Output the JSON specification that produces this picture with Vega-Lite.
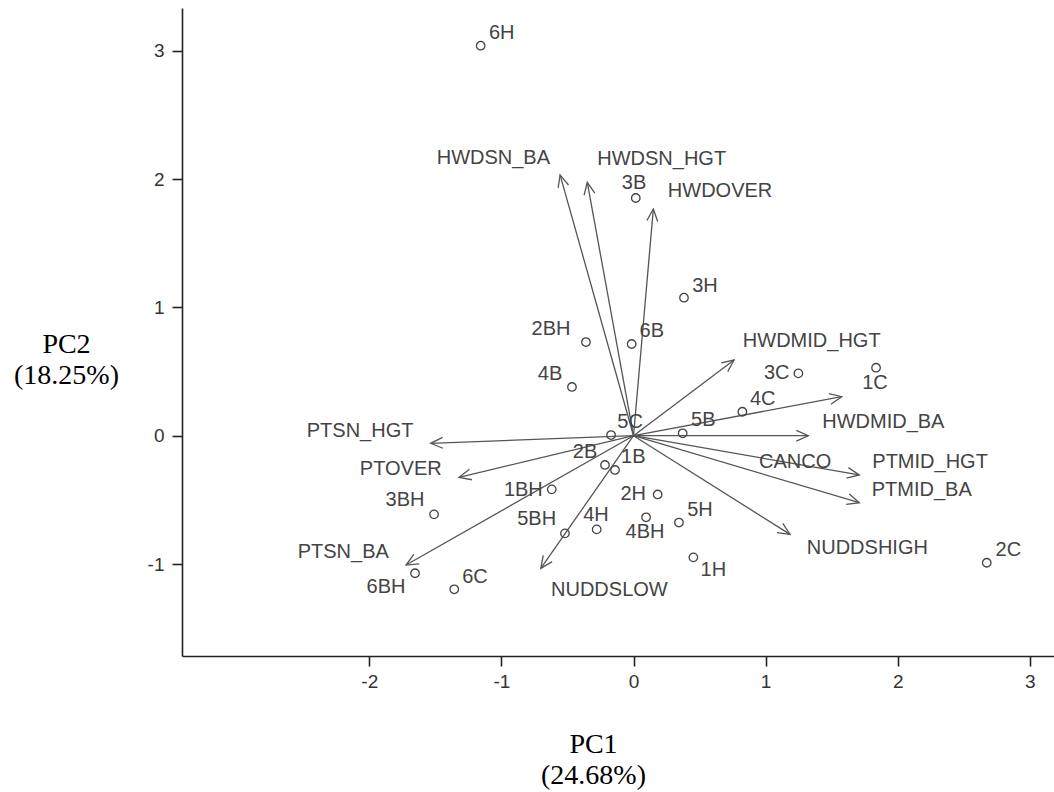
{
  "$schema": "https://vega.github.io/schema/vega-lite/v6.json",
  "width": 872,
  "height": 648,
  "autosize": {"type": "none"},
  "padding": {"left": 182, "top": 8, "right": 0, "bottom": 136},
  "background": "white",
  "config": {
    "view": {"stroke": null},
    "axis": {
      "grid": false,
      "domainColor": "#222222",
      "domainWidth": 1.6,
      "tickColor": "#222222",
      "tickWidth": 1.6,
      "tickSize": 10,
      "labelFont": "Liberation Sans",
      "labelFontSize": 19,
      "labelColor": "#333333",
      "titleFont": "Liberation Serif",
      "titleFontSize": 28,
      "titleFontWeight": "normal",
      "titleColor": "#000000",
      "titleLineHeight": 31
    }
  },
  "datasets": {
    "loadings": [
      {"name": "HWDSN_BA", "x": -0.556, "y": 2.033, "lx": -1.061, "ly": 2.167},
      {"name": "HWDSN_HGT", "x": -0.35, "y": 1.975, "lx": 0.213, "ly": 2.157},
      {"name": "HWDOVER", "x": 0.15, "y": 1.767, "lx": 0.655, "ly": 1.907},
      {"name": "HWDMID_HGT", "x": 0.761, "y": 0.59, "lx": 1.349, "ly": 0.738},
      {"name": "HWDMID_BA", "x": 1.576, "y": 0.304, "lx": 1.891, "ly": 0.109},
      {"name": "CANCO", "x": 1.323, "y": 0.0, "lx": 1.223, "ly": -0.203},
      {"name": "PTMID_HGT", "x": 1.709, "y": -0.306, "lx": 2.245, "ly": -0.203},
      {"name": "PTMID_BA", "x": 1.709, "y": -0.522, "lx": 2.182, "ly": -0.423},
      {"name": "NUDDSHIGH", "x": 1.185, "y": -0.769, "lx": 1.77, "ly": -0.873},
      {"name": "NUDDSLOW", "x": -0.702, "y": -1.034, "lx": -0.183, "ly": -1.203},
      {"name": "PTSN_BA", "x": -1.722, "y": -1.008, "lx": -2.197, "ly": -0.904},
      {"name": "PTOVER", "x": -1.321, "y": -0.324, "lx": -1.762, "ly": -0.26},
      {"name": "PTSN_HGT", "x": -1.535, "y": -0.059, "lx": -2.07, "ly": 0.039}
    ],
    "scores": [
      {"site": "6H", "x": -1.157, "y": 3.04, "lx": -0.998, "ly": 3.139},
      {"site": "3B", "x": 0.017, "y": 1.853, "lx": 0.004, "ly": 1.97},
      {"site": "3H", "x": 0.382, "y": 1.076, "lx": 0.541, "ly": 1.167},
      {"site": "2BH", "x": -0.36, "y": 0.73, "lx": -0.625, "ly": 0.831},
      {"site": "6B", "x": -0.014, "y": 0.715, "lx": 0.138, "ly": 0.818},
      {"site": "4B", "x": -0.466, "y": 0.38, "lx": -0.632, "ly": 0.483},
      {"site": "3C", "x": 1.248, "y": 0.486, "lx": 1.084, "ly": 0.486},
      {"site": "1C", "x": 1.836, "y": 0.53, "lx": 1.828, "ly": 0.408},
      {"site": "4C", "x": 0.824, "y": 0.187, "lx": 0.978, "ly": 0.284},
      {"site": "5C", "x": -0.17, "y": 0.005, "lx": -0.026, "ly": 0.109},
      {"site": "5B", "x": 0.372, "y": 0.019, "lx": 0.528, "ly": 0.122},
      {"site": "2B", "x": -0.216, "y": -0.228, "lx": -0.367, "ly": -0.129},
      {"site": "1B", "x": -0.14, "y": -0.267, "lx": -0.002, "ly": -0.164},
      {"site": "1BH", "x": -0.619, "y": -0.418, "lx": -0.834, "ly": -0.423},
      {"site": "2H", "x": 0.183, "y": -0.458, "lx": -0.002, "ly": -0.458},
      {"site": "3BH", "x": -1.51, "y": -0.613, "lx": -1.73, "ly": -0.501},
      {"site": "4BH", "x": 0.095, "y": -0.636, "lx": 0.087, "ly": -0.748},
      {"site": "5H", "x": 0.344, "y": -0.677, "lx": 0.503, "ly": -0.579},
      {"site": "4H", "x": -0.279, "y": -0.73, "lx": -0.284, "ly": -0.618},
      {"site": "5BH", "x": -0.519, "y": -0.761, "lx": -0.733, "ly": -0.649},
      {"site": "1H", "x": 0.453, "y": -0.948, "lx": 0.604, "ly": -1.047},
      {"site": "2C", "x": 2.674, "y": -0.99, "lx": 2.837, "ly": -0.891},
      {"site": "6BH", "x": -1.654, "y": -1.072, "lx": -1.874, "ly": -1.177},
      {"site": "6C", "x": -1.357, "y": -1.197, "lx": -1.2, "ly": -1.099}
    ]
  },
  "layer": [
    {
      "data": {"name": "loadings"},
      "mark": {"type": "rule", "stroke": "#555555", "strokeWidth": 1.3},
      "encoding": {
        "x": {
          "field": "x",
          "type": "quantitative",
          "title": ["PC1", "(24.68%)"],
          "scale": {"domain": [-3.418, 3.183], "nice": false, "zero": false},
          "axis": {
            "values": [-2, -1, 0, 1, 2, 3],
            "labelExpr": "toString(datum.value)",
            "labelPadding": 6,
            "titleAngle": 0,
            "titleAlign": "center",
            "titleBaseline": "alphabetic",
            "titleX": 411,
            "titleY": 96
          }
        },
        "y": {
          "field": "y",
          "type": "quantitative",
          "title": ["PC2", "(18.25%)"],
          "scale": {"domain": [-1.717, 3.334], "nice": false, "zero": false},
          "axis": {
            "values": [-1, 0, 1, 2, 3],
            "labelExpr": "toString(datum.value)",
            "labelPadding": 8,
            "titleAngle": 0,
            "titleAlign": "center",
            "titleBaseline": "alphabetic",
            "titleX": -116,
            "titleY": 344
          }
        },
        "x2": {"datum": 0},
        "y2": {"datum": 0}
      }
    },
    {
      "data": {"name": "loadings"},
      "transform": [
        {"calculate": "(atan2(datum.x * 132.1, datum.y * 128.3) * 180 / PI + 360) % 360", "as": "heading"}
      ],
      "mark": {
        "type": "point",
        "shape": "M-0.45,1L0,0L0.45,1",
        "filled": false,
        "size": 576,
        "stroke": "#555555",
        "strokeWidth": 1.3,
        "opacity": 1
      },
      "encoding": {
        "x": {"field": "x", "type": "quantitative", "title": ["PC1", "(24.68%)"]},
        "y": {"field": "y", "type": "quantitative", "title": ["PC2", "(18.25%)"]},
        "angle": {"field": "heading", "type": "quantitative", "scale": null}
      }
    },
    {
      "data": {"name": "loadings"},
      "mark": {
        "type": "text",
        "font": "Liberation Sans",
        "fontSize": 20,
        "color": "#444444",
        "align": "center",
        "baseline": "middle"
      },
      "encoding": {
        "x": {"field": "lx", "type": "quantitative", "title": ["PC1", "(24.68%)"]},
        "y": {"field": "ly", "type": "quantitative", "title": ["PC2", "(18.25%)"]},
        "text": {"field": "name"}
      }
    },
    {
      "data": {"name": "scores"},
      "mark": {
        "type": "point",
        "shape": "circle",
        "filled": false,
        "size": 72,
        "stroke": "#444444",
        "strokeWidth": 1.3,
        "opacity": 1
      },
      "encoding": {
        "x": {"field": "x", "type": "quantitative", "title": ["PC1", "(24.68%)"]},
        "y": {"field": "y", "type": "quantitative", "title": ["PC2", "(18.25%)"]}
      }
    },
    {
      "data": {"name": "scores"},
      "mark": {
        "type": "text",
        "font": "Liberation Sans",
        "fontSize": 20,
        "color": "#444444",
        "align": "center",
        "baseline": "middle"
      },
      "encoding": {
        "x": {"field": "lx", "type": "quantitative", "title": ["PC1", "(24.68%)"]},
        "y": {"field": "ly", "type": "quantitative", "title": ["PC2", "(18.25%)"]},
        "text": {"field": "site"}
      }
    }
  ]
}
